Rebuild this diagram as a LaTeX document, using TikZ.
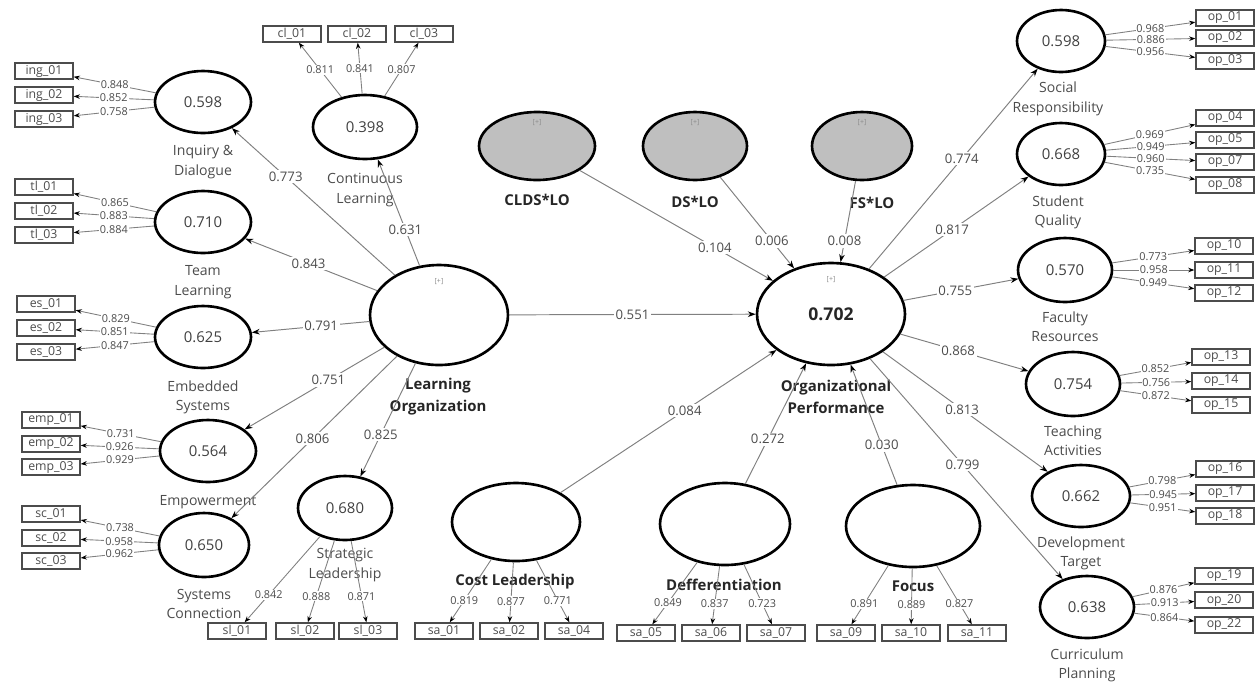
\documentclass[tikz,border=0pt]{standalone}
\usepackage{fontspec}
\setmainfont{Open Sans}
\usetikzlibrary{arrows.meta,positioning,shapes.geometric}

\begin{document}
\begin{tikzpicture}[
    x=0.02cm, y=-0.02cm,
    lat/.style={ellipse, draw, line width=1.5pt, minimum width=1.92cm, minimum height=1.24cm, inner sep=0pt, font=\fontsize{8.5}{10}\selectfont, text=black!75},
    inter/.style={lat, fill=black!25, minimum height=1.36cm},
    ind/.style={rectangle, draw=black!70, line width=0.8pt, minimum width=1.16cm, minimum height=0.32cm, inner sep=0pt, font=\fontsize{7}{8}\selectfont, text=black!70},
    spath/.style={draw=black!50, line width=0.55pt, -{Stealth[length=4.5pt, width=3.2pt, color=black]}},
    ld/.style={draw=black!50, line width=0.5pt, -{Stealth[length=3.5pt, width=2.6pt, color=black]}},
    coef/.style={fill=white, inner sep=1pt, font=\fontsize{7.5}{9}\selectfont, text=black!70},
    load/.style={fill=white, inner sep=0.5pt, font=\fontsize{6.2}{7}\selectfont, text=black!70},
    lvname/.style={align=center, font=\fontsize{8}{11}\selectfont, text=black!70},
    cname/.style={align=center, font=\bfseries\fontsize{8.5}{12.5}\selectfont, text=black!85},
    plus/.style={inner sep=0.5pt, font=\fontsize{4}{5}\selectfont, text=black!45}
]
\useasboundingbox (0,0) rectangle (1256,681);

% Learning organization dimensions
\node[lat] (ID) at (203,102) {0.598};
\node[lat] (TL) at (203,222) {0.710};
\node[lat] (ES) at (203,337) {0.625};
\node[lat] (EM) at (208,451) {0.564};
\node[lat, minimum width=1.8cm, minimum height=1.28cm] (SC) at (204,545) {0.650};
\node[lat, minimum width=2.08cm, minimum height=1.28cm] (CL) at (365,127) {0.398};
\node[lat, minimum width=1.88cm, minimum height=1.28cm] (SL) at (345,508) {0.680};

\node[lvname] (IDn) at (203,162) {Inquiry \&\\Dialogue};
\node[lvname] (TLn) at (203,282) {Team\\Learning};
\node[lvname] (ESn) at (203,397) {Embedded\\Systems};
\node[lvname] (EMn) at (208,502) {Empowerment};
\node[lvname] (SCn) at (204,604) {Systems\\Connection};
\node[lvname] (CLn) at (365,190) {Continuous\\Learning};
\node[lvname] (SLn) at (345,565) {Strategic\\Leadership};

% Main constructs
\node[lat, minimum width=2.76cm, minimum height=2cm] (LO) at (439,315) {};
\node[plus, below=0.28cm of LO.north] (LOt) {[+]};
\node[cname] (LOn) at (438,397) {Learning\\Organization};

\node[lat, minimum width=2.96cm, minimum height=2.04cm, font=\bfseries\fontsize{10}{12}\selectfont, text=black!85] (OP) at (831,314) {0.702};
\node[plus, below=0.28cm of OP.north] (OPt) {[+]};
\node[cname] (OPn) at (836,397) {Organizational\\Performance};

% Interaction terms
\node[inter, minimum width=2.32cm] (CLDS) at (537,146) {};
\node[inter, minimum width=2.08cm] (DS) at (695,146) {};
\node[inter, minimum width=2cm] (FS) at (862,146) {};
\foreach \m in {CLDS,DS,FS}
  \node[plus, below=0.16cm of \m.north] {[+]};
\node[cname] (CLDSn) at (537,200) {CLDS*LO};
\node[cname] (DSn) at (695,202) {DS*LO};
\node[cname] (FSn) at (872,203) {FS*LO};

% Strategy moderators
\node[lat, minimum width=2.56cm, minimum height=1.56cm] (CLe) at (516,522) {};
\node[lat, minimum width=2.6cm, minimum height=1.64cm] (DF) at (725,524) {};
\node[lat, minimum width=2.68cm, minimum height=1.64cm] (FO) at (913,526) {};
\node[cname] (CLen) at (515,582) {Cost Leadership};
\node[cname] (DFn) at (724,585) {Defferentiation};
\node[cname] (FOn) at (913,586) {Focus};

% Organizational performance dimensions
\node[lat, minimum width=1.76cm] (SR) at (1061,41) {0.598};
\node[lat, minimum width=1.76cm] (SQ) at (1061,154) {0.668};
\node[lat, minimum width=1.88cm, minimum height=1.28cm] (FR) at (1065,270) {0.570};
\node[lat, minimum width=1.88cm, minimum height=1.28cm] (TA) at (1073,384) {0.754};
\node[lat, minimum width=1.96cm] (DT) at (1081,496) {0.662};
\node[lat, minimum width=1.88cm] (CP) at (1087,607) {0.638};

\node[lvname] (SRn) at (1058,99) {Social\\Responsibility};
\node[lvname] (SQn) at (1058,212) {Student\\Quality};
\node[lvname] (FRn) at (1065,327) {Faculty\\Resources};
\node[lvname] (TAn) at (1073,441) {Teaching\\Activities};
\node[lvname] (DTn) at (1081,553) {Development\\Target};
\node[lvname] (CPn) at (1087,665) {Curriculum\\Planning};

% Indicators and loadings, left
\foreach \t/\y/\v in {01/71/0.848, 02/95/0.852, 03/119/0.758}{
  \node[ind] (ing\t) at (44,\y) {ing\_\t};
  \draw[ld] (ID) -- node[load] {\v} (ing\t);
}
\foreach \t/\y/\v in {01/187/0.865, 02/211/0.883, 03/235/0.884}{
  \node[ind] (tl\t) at (44,\y) {tl\_\t};
  \draw[ld] (TL) -- node[load] {\v} (tl\t);
}
\foreach \t/\y/\v in {01/304/0.829, 02/328/0.851, 03/352/0.847}{
  \node[ind] (es\t) at (46,\y) {es\_\t};
  \draw[ld] (ES) -- node[load] {\v} (es\t);
}
\foreach \t/\y/\v in {01/420/0.731, 02/444/0.926, 03/467/0.929}{
  \node[ind] (emp\t) at (51,\y) {emp\_\t};
  \draw[ld] (EM) -- node[load] {\v} (emp\t);
}
\foreach \t/\y/\v in {01/514/0.738, 02/538/0.958, 03/561/0.962}{
  \node[ind] (sc\t) at (51,\y) {sc\_\t};
  \draw[ld] (SC) -- node[load] {\v} (sc\t);
}

% Indicators and loadings, top and bottom
\foreach \t/\x/\v in {01/292/0.811, 02/357/0.841, 03/424/0.807}{
  \node[ind] (cl\t) at (\x,34) {cl\_\t};
  \draw[ld] (CL) -- node[load] {\v} (cl\t);
}
\foreach \t/\x/\v in {01/237/0.842, 02/305/0.888, 03/368/0.871}{
  \node[ind] (sl\t) at (\x,631) {sl\_\t};
  \draw[ld] (SL) -- node[load, pos=0.68] {\v} (sl\t);
}
\foreach \t/\x/\v in {01/444/0.819, 02/509/0.877, 04/574/0.771}{
  \node[ind] (sa\t) at (\x,631) {sa\_\t};
  \draw[ld] (CLe) -- node[load, pos=0.65] {\v} (sa\t);
}
\foreach \t/\x/\v in {05/646/0.849, 06/711/0.837, 07/776/0.723}{
  \node[ind] (sa\t) at (\x,633) {sa\_\t};
  \draw[ld] (DF) -- node[load, pos=0.65] {\v} (sa\t);
}
\foreach \t/\x/\v in {09/846/0.891, 10/911/0.889, 11/977/0.827}{
  \node[ind] (sa\t) at (\x,633) {sa\_\t};
  \draw[ld] (FO) -- node[load, pos=0.65] {\v} (sa\t);
}

% Indicators and loadings, right
\foreach \t/\y/\v in {01/18/0.968, 02/38/0.886, 03/61/0.956}{
  \node[ind] (op\t) at (1225,\y) {op\_\t};
  \draw[ld] (SR) -- node[load] {\v} (op\t);
}
\foreach \t/\y/\v in {04/118/0.969, 05/140/0.949, 07/162/0.960, 08/185/0.735}{
  \node[ind] (op\t) at (1225,\y) {op\_\t};
  \draw[ld] (SQ) -- node[load] {\v} (op\t);
}
\foreach \t/\y/\v in {10/246/0.773, 11/270/0.958, 12/293/0.949}{
  \node[ind] (op\t) at (1224,\y) {op\_\t};
  \draw[ld] (FR) -- node[load] {\v} (op\t);
}
\foreach \t/\y/\v in {13/357/0.852, 14/381/0.756, 15/405/0.872}{
  \node[ind] (op\t) at (1221,\y) {op\_\t};
  \draw[ld] (TA) -- node[load] {\v} (op\t);
}
\foreach \t/\y/\v in {16/469/0.798, 17/493/0.945, 18/516/0.951}{
  \node[ind] (op\t) at (1225,\y) {op\_\t};
  \draw[ld] (DT) -- node[load] {\v} (op\t);
}
\foreach \t/\y/\v in {19/576/0.876, 20/600/0.913, 22/625/0.864}{
  \node[ind] (op\t) at (1224,\y) {op\_\t};
  \draw[ld] (CP) -- node[load] {\v} (op\t);
}

% Second-order paths
\draw[spath] (LO) -- node[coef, pos=0.67] {0.773} (ID);
\draw[spath] (LO) -- node[coef, pos=0.34] {0.631} (CL);
\draw[spath] (LO) -- node[coef, pos=0.52] {0.843} (TL);
\draw[spath] (LO) -- node[coef, pos=0.41] {0.791} (ES);
\draw[spath] (LO) -- node[coef, pos=0.40] {0.751} (EM);
\draw[spath] (LO) -- node[coef, pos=0.51] {0.806} (SC);
\draw[spath] (LO) -- node[coef, pos=0.63] {0.825} (SL);

\draw[spath] (OP) -- node[coef, pos=0.55] {0.774} (SR);
\draw[spath] (OP) -- node[coef, pos=0.47] {0.817} (SQ);
\draw[spath] (OP) -- node[coef, pos=0.45] {0.755} (FR);
\draw[spath] (OP) -- node[coef, pos=0.45] {0.868} (TA);
\draw[spath] (OP) -- node[coef, pos=0.48] {0.813} (DT);
\draw[spath] (OP) -- node[coef, pos=0.48] {0.799} (CP);

% Structural paths
\draw[spath] (LO) -- node[coef, pos=0.5] {0.551} (OP);
\draw[spath] (CLDS) -- node[coef, pos=0.70] {0.104} (OP);
\draw[spath] (DS) -- node[coef, pos=0.70] {0.006} (OP);
\draw[spath] (FS) -- node[coef, pos=0.74] {0.008} (OP);
\draw[spath] (CLe) -- node[coef, pos=0.575] {0.084} (OP);
\draw[spath] (DF) -- node[coef, pos=0.37] {0.272} (OP);
\draw[spath] (FO) -- node[coef, pos=0.33] {0.030} (OP);

\end{tikzpicture}
\end{document}
